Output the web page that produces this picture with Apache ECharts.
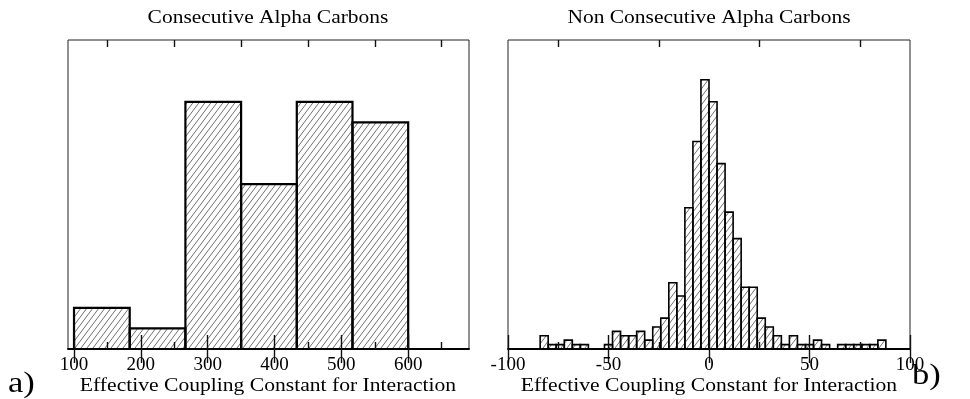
<!DOCTYPE html>
<html>
<head>
<meta charset="utf-8">
<script src="https://cdn.jsdelivr.net/npm/echarts@6/dist/echarts.min.js"></script>
<style>
  html, body { margin: 0; padding: 0; background: #fff; }
  #chart { width: 970px; height: 399px; }
</style>
</head>
<body>
<div id="chart"></div>
<script>
// ---- texts ----
const consecTitle = 'Consecutive Alpha Carbons';
const nonConsecTitle = 'Non Consecutive Alpha Carbons';
const axisTitle = 'Effective Coupling Constant for Interaction';
const panelTags = ['a)', 'b)'];

// ---- consecutive pairs: six equal bins from 100 to 600 ----
const consecBinStart = 100;
const consecBinWidth = 500 / 6;
const consecCounts = [2, 1, 12, 8, 12, 11];
const consecLabelTicks = [100, 200, 300, 400, 500, 600];
const consecMinorTicks = [150, 250, 350, 450, 550, 650];

// ---- non-consecutive pairs: 4-unit bins from -100 to 100 ----
const nonBinStart = -100;
const nonBinWidth = 4;
const nonCounts = [
  0, 0, 0, 0, 3, 1, 1, 2, 1, 1,
  0, 0, 1, 4, 3, 3, 4, 2, 5, 7,
  15, 12, 32, 47, 61, 56, 42, 31, 25, 14,
  14, 7, 5, 3, 1, 3, 1, 1, 2, 1,
  0, 1, 1, 1, 1, 1, 2, 0, 0, 0
];
const nonLabelTicks = [-100, -50, 0, 50, 100];
const nonMinorTicks = [-75, -25, 25, 75];

// ---- helpers ----
const FONT = 'Liberation Serif';

function toBins(start, width, counts) {
  return counts.map((c, i) => [start + i * width, start + (i + 1) * width, c]);
}

// diagonal hatch tile; neighbouring copies make it wrap seamlessly
function hatchTile(w, h, color, lw) {
  const c = document.createElement('canvas');
  c.width = w; c.height = h;
  const g = c.getContext('2d');
  g.strokeStyle = color;
  g.lineWidth = lw;
  g.beginPath();
  for (const dx of [-w, 0, w]) {
    g.moveTo(dx, h);
    g.lineTo(dx + w, 0);
  }
  g.stroke();
  return c;
}
const hatch = { image: hatchTile(6, 8, '#555', 0.85), repeat: 'repeat' };

function histItem(lineWidth) {
  return function (params, api) {
    if (!api.value(2)) return null;
    const p0 = api.coord([api.value(0), 0]);
    const p1 = api.coord([api.value(1), api.value(2)]);
    return {
      type: 'rect',
      shape: { x: p0[0], y: p1[1], width: p1[0] - p0[0], height: p0[1] - p1[1] },
      style: { fill: hatch, stroke: '#000', lineWidth: lineWidth }
    };
  };
}

const labelStyle = { color: '#000', fontFamily: FONT, fontSize: 19 };
const tickStyle = { color: '#111', width: 1.4 };

function xAxisDef(gridIndex, position, min, max, ticks, len, labels, line) {
  return {
    type: 'value', gridIndex, position, min, max, z: 5,
    splitLine: { show: false },
    axisLine: line ? { show: true, onZero: false, lineStyle: { color: '#000', width: 2 } } : { show: false },
    axisTick: { show: true, inside: true, length: len, customValues: ticks, lineStyle: tickStyle },
    axisLabel: labels
      ? Object.assign({ show: true, margin: 7, customValues: labels }, labelStyle)
      : { show: false }
  };
}
function yAxisDef(gridIndex, max) {
  return { type: 'value', gridIndex, min: 0, max, show: false, splitLine: { show: false } };
}

const leftRect = { left: 68, right: 501, top: 40, bottom: 50 };
const rightRect = { left: 508, right: 60, top: 40, bottom: 50 };

const option = {
  animation: false,
  backgroundColor: '#fff',
  grid: [
    Object.assign({ show: true, borderColor: '#222', borderWidth: 1 }, leftRect),
    Object.assign({ show: false }, leftRect),
    Object.assign({ show: true, borderColor: '#222', borderWidth: 1 }, rightRect),
    Object.assign({ show: false }, rightRect)
  ],
  xAxis: [
    xAxisDef(0, 'bottom', 91, 691, consecLabelTicks, 14, consecLabelTicks, true),
    xAxisDef(0, 'top', 91, 691, consecLabelTicks, 14, null, false),
    xAxisDef(1, 'bottom', 91, 691, consecMinorTicks, 7, null, false),
    xAxisDef(1, 'top', 91, 691, consecMinorTicks, 7, null, false),
    xAxisDef(2, 'bottom', -100, 100, nonLabelTicks, 14, nonLabelTicks, true),
    xAxisDef(2, 'top', -100, 100, nonLabelTicks, 14, null, false),
    xAxisDef(3, 'bottom', -100, 100, nonMinorTicks, 7, null, false),
    xAxisDef(3, 'top', -100, 100, nonMinorTicks, 7, null, false)
  ],
  yAxis: [yAxisDef(0, 15), yAxisDef(1, 15), yAxisDef(2, 70), yAxisDef(3, 70)],
  series: [
    {
      type: 'custom', name: consecTitle, xAxisIndex: 0, yAxisIndex: 0,
      renderItem: histItem(2.2),
      encode: { x: [0, 1], y: 2 },
      data: toBins(consecBinStart, consecBinWidth, consecCounts)
    },
    {
      type: 'custom', name: nonConsecTitle, xAxisIndex: 4, yAxisIndex: 2,
      renderItem: histItem(1.6),
      encode: { x: [0, 1], y: 2 },
      data: toBins(nonBinStart, nonBinWidth, nonCounts)
    }
  ],
  graphic: [
    { type: 'text', x: 268, y: 18, scaleX: 1.16,
      style: { text: consecTitle, fill: '#000', font: '18.5px "' + FONT + '"', align: 'center', verticalAlign: 'middle' } },
    { type: 'text', x: 709, y: 18, scaleX: 1.16,
      style: { text: nonConsecTitle, fill: '#000', font: '18.5px "' + FONT + '"', align: 'center', verticalAlign: 'middle' } },
    { type: 'text', x: 268, y: 386, scaleX: 1.2,
      style: { text: axisTitle, fill: '#000', font: '18px "' + FONT + '"', align: 'center', verticalAlign: 'middle' } },
    { type: 'text', x: 709, y: 386, scaleX: 1.2,
      style: { text: axisTitle, fill: '#000', font: '18px "' + FONT + '"', align: 'center', verticalAlign: 'middle' } },
    { type: 'text', x: 8, y: 384, scaleX: 1.15,
      style: { text: panelTags[0], fill: '#000', font: '30px "' + FONT + '"', align: 'left', verticalAlign: 'middle' } },
    { type: 'text', x: 912, y: 376, scaleX: 1.15,
      style: { text: panelTags[1], fill: '#000', font: '30px "' + FONT + '"', align: 'left', verticalAlign: 'middle' } }
  ]
};

echarts.init(document.getElementById('chart'), null, { renderer: 'canvas' }).setOption(option);
</script>
</body>
</html>
